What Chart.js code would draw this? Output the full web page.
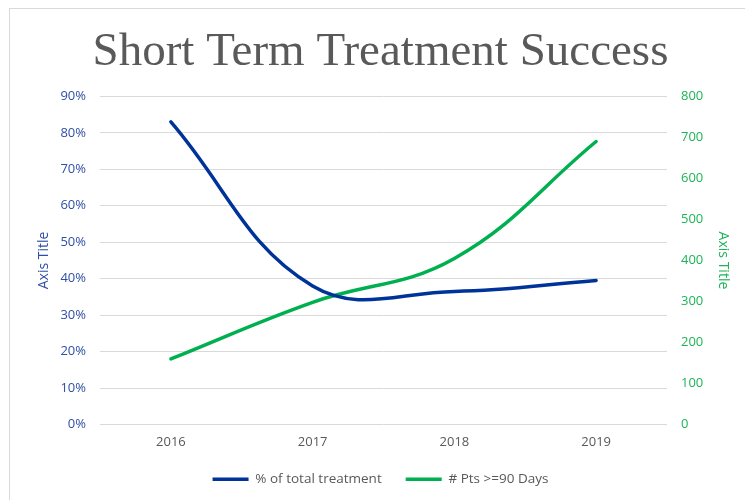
<!DOCTYPE html>
<html>
<head>
<meta charset="utf-8">
<script src="https://cdn.jsdelivr.net/npm/chart.js@4"></script>
<style>
  html, body { margin: 0; padding: 0; background: #fff; overflow: hidden; }
  #wrap { position: absolute; left: 0; top: 0; width: 745px; height: 500px; }
  #frame { position: absolute; left: 9px; top: 8px; width: 800px; height: 600px; border: 1px solid #d9d9d9; box-sizing: border-box; pointer-events: none; }
</style>
</head>
<body>
<div id="wrap">
  <canvas id="c" width="745" height="500"></canvas>
  <div id="frame"></div>
</div>
<script>
const categories = ['2016', '2017', '2018', '2019'];
const pctTotalTreatment = [0.83, 0.38, 0.365, 0.395];
const ptsOver90Days = [160, 298, 405, 690];
const leftTicks = [0, 0.1, 0.2, 0.3, 0.4, 0.5, 0.6, 0.7, 0.8, 0.9];
const rightTicks = [0, 100, 200, 300, 400, 500, 600, 700, 800];

const BLUE = '#003399';
const GREEN = '#00B050';
const BLUE_TXT = '#2E4FA5';
const GREEN_TXT = '#1DB457';
const GRAY = '#595959';
const SANS = "'Open Sans', 'Liberation Sans', sans-serif";

new Chart(document.getElementById('c'), {
  type: 'line',
  data: {
    labels: categories,
    datasets: [
      {
        label: '% of total treatment',
        data: pctTotalTreatment,
        yAxisID: 'y',
        borderColor: BLUE,
        backgroundColor: BLUE,
        borderWidth: 3.5,
        borderCapStyle: 'round',
        tension: 0.4,
        pointRadius: 0,
        pointHoverRadius: 0
      },
      {
        label: '# Pts >=90 Days',
        data: ptsOver90Days,
        yAxisID: 'y1',
        borderColor: GREEN,
        backgroundColor: GREEN,
        borderWidth: 3.5,
        borderCapStyle: 'round',
        tension: 0.4,
        pointRadius: 0,
        pointHoverRadius: 0
      }
    ]
  },
  options: {
    responsive: false,
    animation: false,
    events: [],
    layout: { padding: { left: 16, right: 0, top: 16, bottom: 4 } },
    plugins: {
      title: {
        display: true,
        text: 'Short Term Treatment Success',
        color: GRAY,
        font: { family: "'Liberation Serif', 'DejaVu Serif', serif", size: 47, weight: 'normal' },
        padding: { top: 8, bottom: 16 }
      },
      legend: {
        position: 'bottom',
        labels: {
          color: GRAY,
          font: { family: SANS, size: 13.5 },
          usePointStyle: true,
          pointStyle: 'line',
          pointStyleWidth: 36,
          padding: 24
        }
      },
      tooltip: { enabled: false }
    },
    scales: {
      x: {
        offset: true,
        grid: { display: false, drawTicks: false },
        border: { display: false },
        ticks: { color: GRAY, font: { family: SANS, size: 13 }, padding: 10 },
        afterFit(s) { s.height = 24; }
      },
      y: {
        position: 'left',
        min: 0,
        max: 0.9,
        afterBuildTicks(s) { s.ticks = leftTicks.map(v => ({ value: v })); },
        ticks: {
          color: BLUE_TXT,
          font: { family: SANS, size: 13 },
          padding: 14,
          callback: v => Math.round(v * 100) + '%'
        },
        grid: { color: '#d9d9d9', lineWidth: 1, drawTicks: false },
        border: { display: false },
        title: {
          display: true,
          text: 'Axis Title',
          color: BLUE_TXT,
          font: { family: SANS, size: 14 },
          padding: { top: 20, bottom: 0 }
        },
        afterFit(s) { s.width = 84; }
      },
      y1: {
        position: 'right',
        min: 0,
        max: 800,
        afterBuildTicks(s) { s.ticks = rightTicks.map(v => ({ value: v })); },
        ticks: {
          color: GREEN_TXT,
          font: { family: SANS, size: 13 },
          padding: 14
        },
        grid: { display: false, drawTicks: false },
        border: { display: false },
        title: {
          display: true,
          text: 'Axis Title',
          color: GREEN_TXT,
          font: { family: SANS, size: 14 },
          padding: { top: 14, bottom: 0 }
        },
        afterFit(s) { s.width = 78; }
      }
    }
  }
});
</script>
</body>
</html>
